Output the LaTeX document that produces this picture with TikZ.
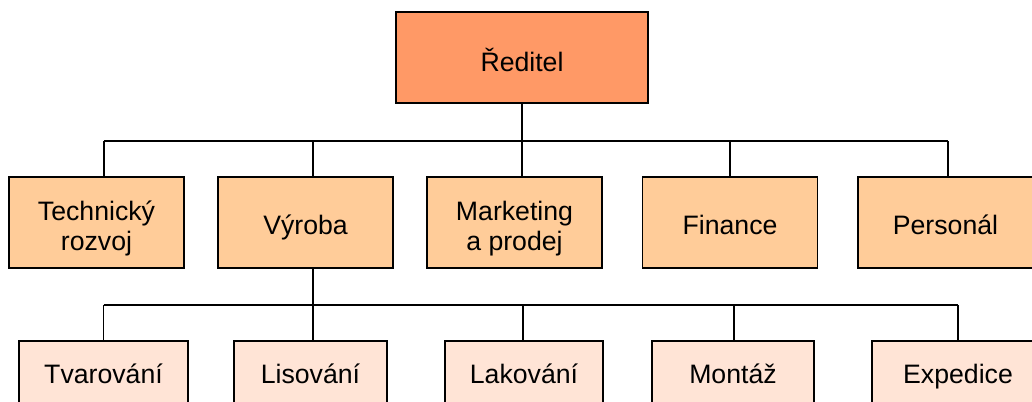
\documentclass[tikz,border=0pt]{standalone}
\usepackage{fontspec}
\setmainfont{Liberation Sans}
\usetikzlibrary{calc}

\definecolor{headfill}{HTML}{FF9966}
\definecolor{deptfill}{HTML}{FFCC99}
\definecolor{unitfill}{HTML}{FFE4D6}

\tikzset{
  box/.style={draw=black, line width=1.4pt, inner sep=0pt, align=center,
    font=\fontsize{20}{22.5}\selectfont},
  headbox/.style={box, fill=headfill, minimum width=189pt, minimum height=68.25pt,
    text height=20.25pt, text depth=0pt},
  deptbox/.style={box, fill=deptfill, minimum width=131.25pt, minimum height=68.25pt,
    text height=17.25pt, text depth=0pt},
  twolines/.style={text height=42.3pt, text depth=0pt},
  unitbox/.style={box, fill=unitfill, minimum height=51pt,
    text height=12pt, text depth=0pt},
  conn/.style={line width=1.4pt}
}

\begin{document}
\begin{tikzpicture}[x=0.75pt, y=-0.75pt]
\useasboundingbox (0,0) rectangle (1032,401);

% vedeni
\node[headbox] (red) at (522,57.5) {Ředitel};

% useky
\node[deptbox, twolines] (tech) at (96.5,222.5) {Technický\\rozvoj};
\node[deptbox] (vyr) at (305.5,222.5) {Výroba};
\node[deptbox, twolines] (mkt) at (514.5,222.5) {Marketing\\a prodej};
\node[deptbox] (fin) at (730,222.5) {Finance};
\node[deptbox] (per) at (945.5,222.5) {Personál};

% stredisko vyroby
\node[unitbox, minimum width=126.75pt] (tvar) at (103.5,375) {Tvarování};
\node[unitbox, minimum width=114.75pt] (lis) at (310.5,375) {Lisování};
\node[unitbox, minimum width=118.5pt] (lak) at (524,375) {Lakování};
\node[unitbox, minimum width=121.5pt] (mon) at (733,375) {Montáž};
\node[unitbox, minimum width=129pt] (exp) at (958,375) {Expedice};

\draw[conn] (red.south) -- ++(0,37) coordinate (bus1);
\draw[conn] ([xshift=5.6pt]tech.north |- bus1) -- ([xshift=1.9pt]per.north |- bus1);
\foreach \n/\dx in {tech/5.6pt, vyr/5.6pt, mkt/5.6pt, fin/0pt, per/1.9pt}
  \draw[conn] ([xshift=\dx]\n.north) -- ([xshift=\dx]\n.north |- bus1);

\draw[conn] ([xshift=5.6pt]vyr.south) -- ++(0,36) coordinate (bus2);
\draw[conn] (tvar.north |- bus2) -- (exp.north |- bus2);
\foreach \n/\dx in {tvar/0pt, lis/1.9pt, lak/-0.75pt, mon/0.75pt, exp/0pt}
  \draw[conn] ([xshift=\dx]\n.north) -- ([xshift=\dx]\n.north |- bus2);

\end{tikzpicture}
\end{document}
